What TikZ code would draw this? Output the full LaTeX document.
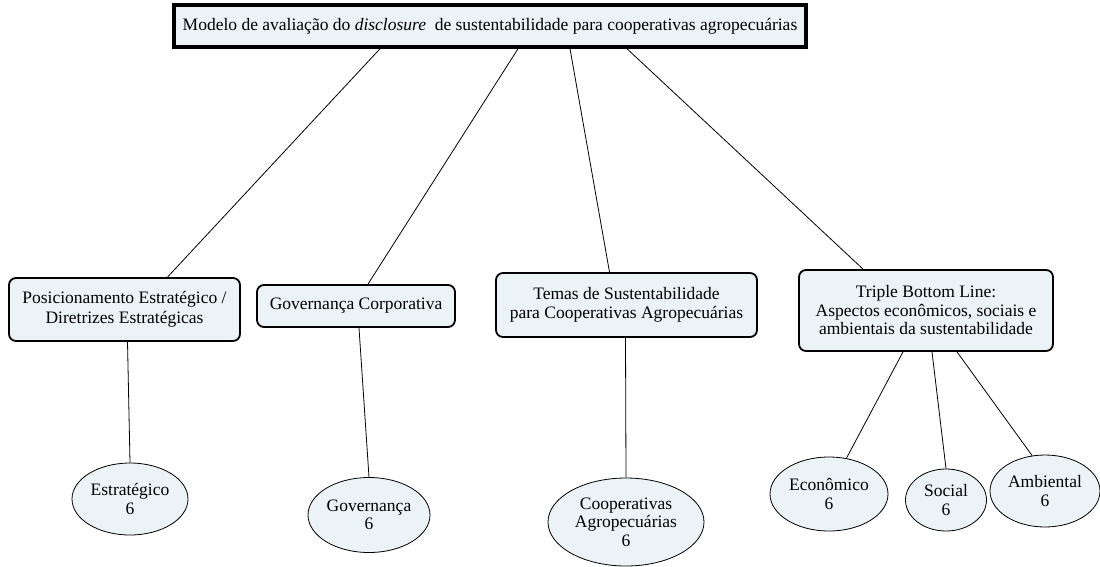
\documentclass[tikz,border=0pt]{standalone}
\usepackage{fontspec}
\setmainfont{Liberation Serif}
\usepackage{xcolor}
\usetikzlibrary{shapes.geometric, positioning, calc}
\definecolor{boxfill}{RGB}{236,243,246}

\begin{document}
\begin{tikzpicture}[x=1pt,y=-1pt,-,
                    title node/.style={rectangle,fill=boxfill,draw,line width=3.5pt,font=\fontsize{17.5}{20}\selectfont,minimum width=632,minimum height=42,inner sep=0pt},
                    group node/.style={rectangle,rounded corners=7pt,fill=boxfill,draw,line width=1.8pt,font=\fontsize{17.5}{19.5}\selectfont,align=center,inner xsep=8pt,inner ysep=0pt},
                    leaf node/.style={ellipse,fill=boxfill,draw,line width=0.8pt,font=\fontsize{17.5}{18.5}\selectfont,align=center,inner sep=0pt},
                    link/.style={line width=0.8pt}]
\useasboundingbox (0,0) rectangle (1100,566);

% top
\node[title node] (Modelo) at (490,26) {Modelo de avalia\c{c}\~ao do \textit{disclosure}\ \ de sustentabilidade para cooperativas agropecu\'arias};

% groups
\node[group node,minimum width=231,minimum height=63] (Posicao) at (124.5,309.5) {Posicionamento Estrat\'egico /\\Diretrizes Estrat\'egicas};
\node[group node,minimum width=198,minimum height=42] (Gov) at (356,306) {Governan\c{c}a Corporativa};
\node[group node,minimum width=261,minimum height=64] (Temas) at (626.5,305) {Temas de Sustentabilidade\\para Cooperativas Agropecu\'arias};
\node[group node,minimum width=254,minimum height=81,font=\fontsize{17.5}{18.5}\selectfont] (TBL) at (926,310.5) {Triple Bottom Line:\\Aspectos econ\^omicos, sociais e\\ambientais da sustentabilidade};

% leaves
\node[leaf node,minimum width=116,minimum height=72] (Estr) at (130,499) {Estrat\'egico\\6};
\node[leaf node,minimum width=122,minimum height=75] (GovL) at (369,515) {Governan\c{c}a\\6};
\node[leaf node,minimum width=156,minimum height=88] (Coop) at (626,522) {Cooperativas\\Agropecu\'arias\\6};
\node[leaf node,minimum width=118,minimum height=74] (Econ) at (829,494) {Econ\^omico\\6};
\node[leaf node,minimum width=81,minimum height=62] (Soc) at (946,500) {Social\\6};
\node[leaf node,minimum width=110,minimum height=72] (Amb) at (1045,491) {Ambiental\\6};

% links
\draw[link] ([xshift=-110pt]Modelo.south) -- ([xshift=43pt]Posicao.north);
\draw[link] ([xshift=28pt]Modelo.south) -- ([xshift=12pt]Gov.north);
\draw[link] ([xshift=80pt]Modelo.south) -- ([xshift=-17pt]Temas.north);
\draw[link] ([xshift=137pt]Modelo.south) -- ([xshift=-63pt]TBL.north);

\draw[link] ([xshift=3pt]Posicao.south) -- (Estr.north);
\draw[link] ([xshift=3pt]Gov.south) -- (GovL.north);
\draw[link] ([xshift=-1pt]Temas.south) -- (Coop.north);
\draw[link] ([xshift=-23pt]TBL.south) -- (Econ.64);
\draw[link] ([xshift=6pt]TBL.south) -- (Soc.north);
\draw[link] ([xshift=31pt]TBL.south) -- (Amb.110);

\end{tikzpicture}
\end{document}
